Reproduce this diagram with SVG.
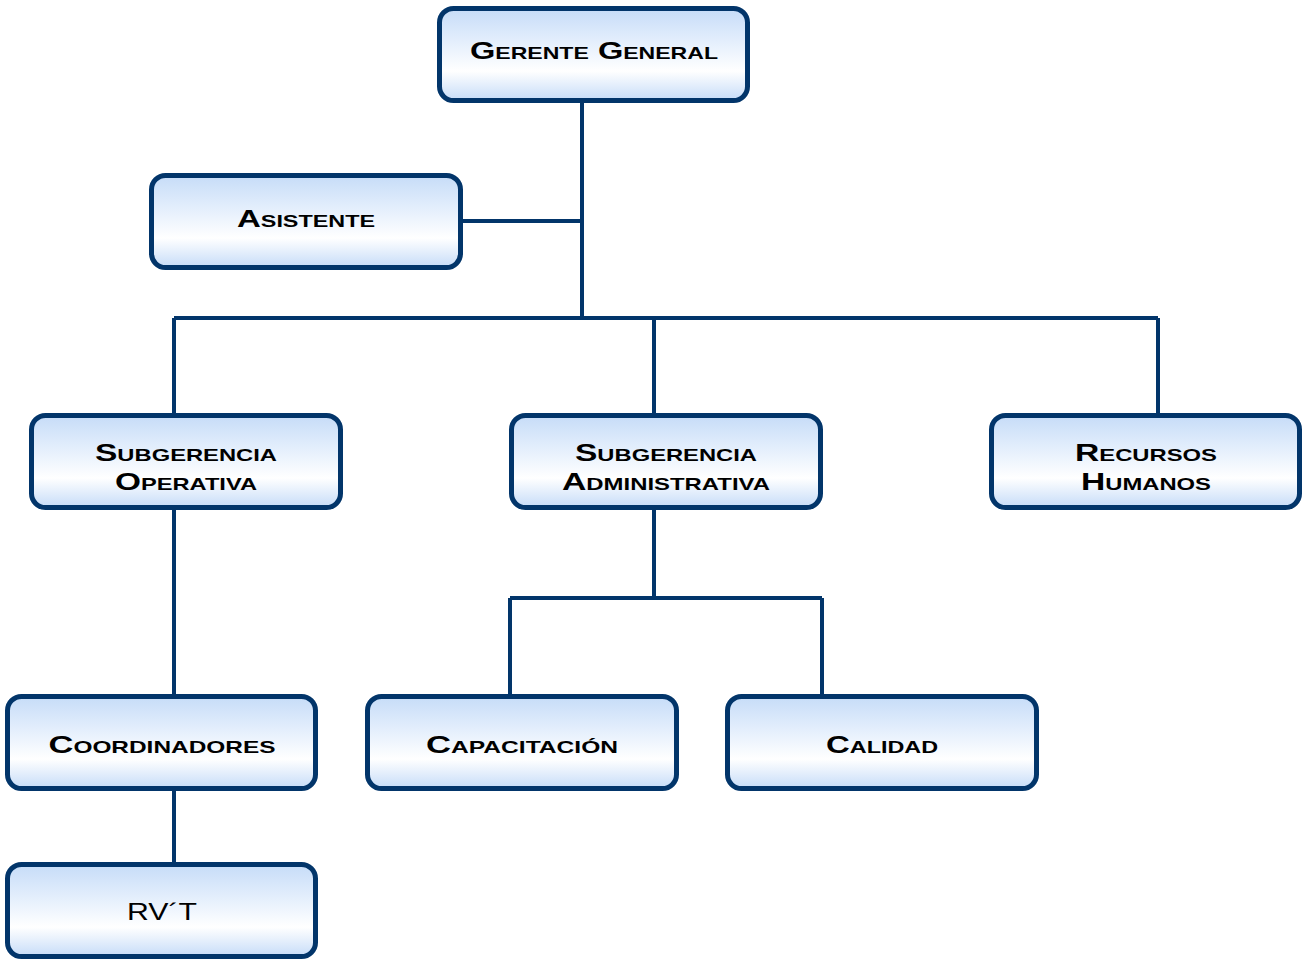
<svg xmlns="http://www.w3.org/2000/svg" width="1304" height="963" viewBox="0 0 1304 963">
  <style>
    .box { fill: url(#boxFill); stroke: #02356a; stroke-width: 5; }
    .link { stroke: #02356a; stroke-width: 4; fill: none; stroke-linecap: butt; }
    .label { font-family: "Liberation Sans", Arial, sans-serif; font-weight: bold; font-size: 24px; font-variant: small-caps; fill: #000; text-anchor: middle; }
  </style>
  <defs>
    <linearGradient id="boxFill" x1="0" y1="0" x2="0" y2="1">
      <stop offset="0" stop-color="#c6dcf8"/>
      <stop offset="0.35" stop-color="#e3eefc"/>
      <stop offset="0.68" stop-color="#ffffff"/>
      <stop offset="1" stop-color="#c6dcf8"/>
    </linearGradient>
  </defs>

  <!-- connectors -->
  <g id="connectors">
    <path class="link" d="M582 102 V318"/>
    <path class="link" d="M463 221 H582"/>
    <path class="link" d="M174 318 H1158"/>
    <path class="link" d="M174 318 V413"/>
    <path class="link" d="M654 318 V413"/>
    <path class="link" d="M1158 318 V413"/>
    <path class="link" d="M174 503 V694"/>
    <path class="link" d="M654 503 V598"/>
    <path class="link" d="M510 598 H822"/>
    <path class="link" d="M510 598 V694"/>
    <path class="link" d="M822 598 V694"/>
    <path class="link" d="M174 791 V862"/>
  </g>

  <g id="gerente-general">
    <rect class="box" x="439.5" y="8.5" width="308" height="92" rx="14"/>
    <text class="label" x="594" y="59" textLength="248" lengthAdjust="spacingAndGlyphs">Gerente General</text>
  </g>

  <g id="asistente">
    <rect class="box" x="151.5" y="175.5" width="309" height="92" rx="14"/>
    <text class="label" x="306" y="227" textLength="138" lengthAdjust="spacingAndGlyphs">Asistente</text>
  </g>

  <g id="subgerencia-operativa">
    <rect class="box" x="31.5" y="415.5" width="309" height="92" rx="14"/>
    <text class="label" x="186" y="461" textLength="182" lengthAdjust="spacingAndGlyphs">Subgerencia</text>
    <text class="label" x="186" y="490" textLength="142" lengthAdjust="spacingAndGlyphs">Operativa</text>
  </g>

  <g id="subgerencia-administrativa">
    <rect class="box" x="511.5" y="415.5" width="309" height="92" rx="14"/>
    <text class="label" x="666" y="461" textLength="182" lengthAdjust="spacingAndGlyphs">Subgerencia</text>
    <text class="label" x="666" y="490" textLength="208" lengthAdjust="spacingAndGlyphs">Administrativa</text>
  </g>

  <g id="recursos-humanos">
    <rect class="box" x="991.5" y="415.5" width="308" height="92" rx="14"/>
    <text class="label" x="1146" y="461" textLength="142" lengthAdjust="spacingAndGlyphs">Recursos</text>
    <text class="label" x="1146" y="490" textLength="130" lengthAdjust="spacingAndGlyphs">Humanos</text>
  </g>

  <g id="coordinadores">
    <rect class="box" x="7.5" y="696.5" width="308" height="92" rx="14"/>
    <text class="label" x="162" y="753" textLength="227" lengthAdjust="spacingAndGlyphs">Coordinadores</text>
  </g>

  <g id="capacitacion">
    <rect class="box" x="367.5" y="696.5" width="309" height="92" rx="14"/>
    <text class="label" x="522" y="753" textLength="192" lengthAdjust="spacingAndGlyphs">Capacitación</text>
  </g>

  <g id="calidad">
    <rect class="box" x="727.5" y="696.5" width="309" height="92" rx="14"/>
    <text class="label" x="882" y="753" textLength="112" lengthAdjust="spacingAndGlyphs">Calidad</text>
  </g>

  <g id="rvt">
    <rect class="box" x="7.5" y="864.5" width="308" height="92" rx="14"/>
    <text class="label" x="162" y="920" textLength="70" lengthAdjust="spacingAndGlyphs" style="font-weight:normal">RV´T</text>
  </g>
</svg>
